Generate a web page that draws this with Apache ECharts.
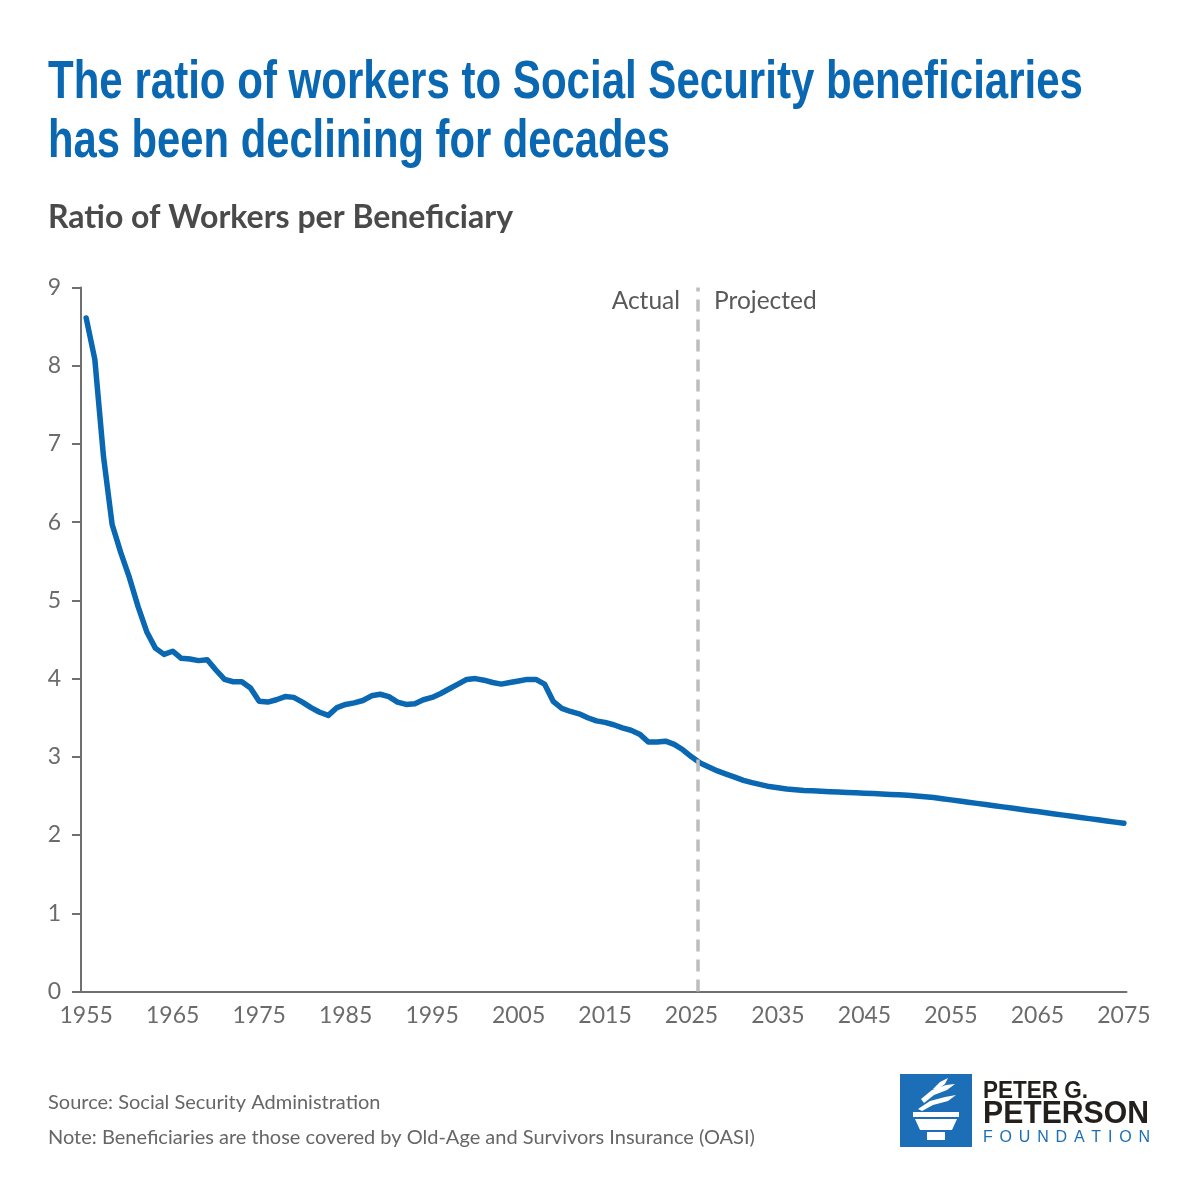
<!DOCTYPE html>
<html>
<head>
<meta charset="utf-8">
<script src="https://cdn.jsdelivr.net/npm/echarts@6/dist/echarts.min.js"></script>
<style>
  html, body { margin: 0; padding: 0; background: #ffffff; }
  #chart { width: 1200px; height: 1200px; }
</style>
</head>
<body>
<div id="chart"></div>
<script>
// ---------------- DATA ----------------
const titleLines = [
  "The ratio of workers to Social Security beneficiaries",
  "has been declining for decades"
];
const subtitle = "Ratio of Workers per Beneficiary";
const sourceText = "Source: Social Security Administration";
const noteText = "Note: Beneficiaries are those covered by Old-Age and Survivors Insurance (OASI)";
const actualLabel = "Actual";
const projectedLabel = "Projected";

const actualYears = [1955,1956,1957,1958,1959,1960,1961,1962,1963,1964,1965,1966,1967,1968,1969,
  1970,1971,1972,1973,1974,1975,1976,1977,1978,1979,1980,1981,1982,1983,1984,1985,1986,1987,1988,1989,
  1990,1991,1992,1993,1994,1995,1996,1997,1998,1999,2000,2001,2002,2003,2004,2005,2006,2007,2008,2009,
  2010,2011,2012,2013,2014,2015,2016,2017,2018,2019,2020,2021,2022,2023,2024,2025];
const actualRatio = [8.61,8.08,6.84,5.97,5.61,5.29,4.92,4.60,4.39,4.31,4.35,4.26,4.25,4.23,4.24,
  4.11,3.99,3.96,3.96,3.88,3.71,3.70,3.73,3.77,3.76,3.70,3.63,3.57,3.53,3.63,3.67,3.69,3.72,3.78,3.80,
  3.77,3.70,3.67,3.68,3.73,3.76,3.81,3.87,3.93,3.99,4.00,3.98,3.95,3.93,3.95,3.97,3.99,3.99,3.93,3.71,
  3.62,3.58,3.55,3.50,3.46,3.44,3.41,3.37,3.34,3.29,3.19,3.19,3.20,3.16,3.09,3.00];

const projectedYears = [2026,2027,2028,2029,2030,2031,2032,2033,2034,2035,2036,2037,2038,2039,2040,
  2041,2042,2043,2044,2045,2046,2047,2048,2049,2050,2051,2052,2053,2054,2055,2056,2057,2058,2059,2060,
  2061,2062,2063,2064,2065,2066,2067,2068,2069,2070,2071,2072,2073,2074,2075];
const projectedRatio = [2.92,2.87,2.82,2.78,2.74,2.70,2.67,2.645,2.62,2.605,2.59,2.58,2.57,2.565,2.56,
  2.555,2.55,2.545,2.54,2.535,2.53,2.525,2.52,2.515,2.51,2.50,2.49,2.48,2.465,2.45,2.435,2.42,2.405,2.39,2.375,
  2.36,2.345,2.33,2.315,2.30,2.285,2.27,2.255,2.24,2.225,2.21,2.195,2.18,2.165,2.15];

const projectionStart = 2025.7;
const xTickLabels = [1955,1965,1975,1985,1995,2005,2015,2025,2035,2045,2055,2065,2075];
const yTickLabels = [0,1,2,3,4,5,6,7,8,9];
const logoLines = ["PETER G.", "PETERSON", "FOUNDATION"];

// ---------------- BUILD ----------------
const lineData = actualYears.map((y, i) => [y, actualRatio[i]])
  .concat(projectedYears.map((y, i) => [y, projectedRatio[i]]));

const measureCanvas = document.createElement('canvas').getContext('2d');
function textWidth(text, font) {
  measureCanvas.font = font;
  return measureCanvas.measureText(text).width;
}
function fitScale(text, font, width) {
  return width / textWidth(text, font);
}

const BLUE = '#0a67b2';
const titleFont = 'bold 54px "Liberation Sans Narrow", "Liberation Sans", sans-serif';
const logoFontA = 'bold 24px "Liberation Sans Narrow", "Liberation Sans", sans-serif';
const logoFontB = 'bold 31px "Liberation Sans Narrow", "Liberation Sans", sans-serif';
const logoFontC = '16px "Liberation Sans", sans-serif';

const graphics = [];
// Title
graphics.push({
  type: 'text', x: 48, y: 83, scaleX: fitScale(titleLines[0], titleFont, 1035),
  style: { text: titleLines[0], font: titleFont, fill: BLUE, textVerticalAlign: 'middle' }
});
graphics.push({
  type: 'text', x: 48, y: 142, scaleX: fitScale(titleLines[1], titleFont, 622),
  style: { text: titleLines[1], font: titleFont, fill: BLUE, textVerticalAlign: 'middle' }
});
// Subtitle
graphics.push({
  type: 'text', x: 48, y: 218,
  style: { text: subtitle, font: 'bold 32px Lato, sans-serif', fill: '#4a4a4a', textVerticalAlign: 'middle' }
});
// Actual / Projected labels
graphics.push({
  type: 'text', x: 680, y: 301,
  style: { text: actualLabel, font: '24.5px Lato, sans-serif', fill: '#595959', textAlign: 'right', textVerticalAlign: 'middle' }
});
graphics.push({
  type: 'text', x: 714, y: 301,
  style: { text: projectedLabel, font: '24.5px Lato, sans-serif', fill: '#595959', textAlign: 'left', textVerticalAlign: 'middle' }
});
// Footer
graphics.push({
  type: 'text', x: 48, y: 1103,
  style: { text: sourceText, font: '20px Lato, sans-serif', fill: '#666666', textVerticalAlign: 'middle' }
});
graphics.push({
  type: 'text', x: 48, y: 1138,
  style: { text: noteText, font: '20px Lato, sans-serif', fill: '#666666', textVerticalAlign: 'middle' }
});
// Logo square
const LOGO_BLUE = '#1c6fb6';
graphics.push({ type: 'rect', shape: { x: 900, y: 1074, width: 72, height: 73 }, style: { fill: LOGO_BLUE } });
// torch
graphics.push({ type: 'rect', shape: { x: 913, y: 1112, width: 46, height: 5 }, style: { fill: '#fff' } });
graphics.push({ type: 'polygon', shape: { points: [[915,1119],[957,1119],[952,1130],[920,1130]] }, style: { fill: '#fff' } });
graphics.push({ type: 'rect', shape: { x: 927, y: 1132, width: 18, height: 8 }, style: { fill: '#fff' } });
graphics.push({ type: 'polygon', shape: { points: [[918,1109],[930,1101],[945,1097],[956,1095],[948,1101],[933,1105],[922,1111]] }, style: { fill: '#fff' } });
graphics.push({ type: 'polygon', shape: { points: [[921,1099],[932,1090],[946,1085],[955,1084],[947,1090],[934,1095],[924,1103]] }, style: { fill: '#fff' } });
graphics.push({ type: 'polygon', shape: { points: [[933,1089],[940,1082],[948,1078],[945,1084],[937,1090]] }, style: { fill: '#fff' } });
// Logo text
graphics.push({
  type: 'text', x: 983, y: 1091, scaleX: fitScale(logoLines[0], logoFontA, 105),
  style: { text: logoLines[0], font: logoFontA, fill: '#231f1c', textVerticalAlign: 'middle' }
});
graphics.push({
  type: 'text', x: 983, y: 1114, scaleX: fitScale(logoLines[1], logoFontB, 166),
  style: { text: logoLines[1], font: logoFontB, fill: '#231f1c', textVerticalAlign: 'middle' }
});
const foundation = logoLines[2].split('');
const fWidths = foundation.map(ch => textWidth(ch, logoFontC));
const fTotal = fWidths.reduce((a, b) => a + b, 0);
const tracking = (167 - fTotal) / (foundation.length - 1);
let fx = 983;
foundation.forEach((ch, i) => {
  graphics.push({
    type: 'text', x: fx, y: 1138,
    style: { text: ch, font: logoFontC, fill: LOGO_BLUE, textVerticalAlign: 'middle' }
  });
  fx += fWidths[i] + tracking;
});

const chart = echarts.init(document.getElementById('chart'), null, { renderer: 'canvas' });
chart.setOption({
  animation: false,
  backgroundColor: '#ffffff',
  grid: { left: 81, right: 73.5, top: 287.5, bottom: 208.5, containLabel: false },
  xAxis: {
    type: 'value',
    min: 1954.4,
    max: 2075.3,
    splitLine: { show: false },
    axisLine: { show: true, lineStyle: { color: '#707070', width: 2 } },
    axisTick: { show: false },
    axisLabel: {
      customValues: xTickLabels,
      formatter: v => String(v),
      color: '#6b6b6b',
      fontFamily: 'Lato',
      fontSize: 23,
      margin: 13
    }
  },
  yAxis: {
    type: 'value',
    min: 0,
    max: 9,
    interval: 1,
    splitLine: { show: false },
    axisLine: { show: true, lineStyle: { color: '#707070', width: 2 } },
    axisTick: { show: true, customValues: yTickLabels, length: 9, lineStyle: { color: '#707070', width: 2 } },
    axisLabel: {
      customValues: yTickLabels,
      color: '#6b6b6b',
      fontFamily: 'Lato',
      fontSize: 23,
      margin: 20
    }
  },
  series: [{
    type: 'line',
    data: lineData,
    showSymbol: false,
    symbol: 'none',
    smooth: false,
    lineStyle: { color: BLUE, width: 5.5, join: 'round', cap: 'round' },
    markLine: {
      silent: true,
      symbol: ['none', 'none'],
      label: { show: false },
      lineStyle: { color: '#bdbdbd', width: 3.5, type: [12, 8] },
      data: [{ xAxis: projectionStart }]
    },
    z: 3
  }],
  graphic: graphics
});
</script>
</body>
</html>
